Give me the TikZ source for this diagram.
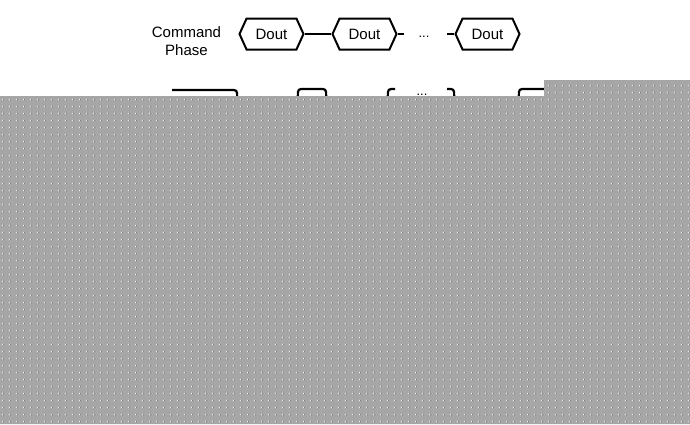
\documentclass[tikz,border=0pt]{standalone}
\usepackage{fontspec}
\setmainfont{Liberation Sans}
\usetikzlibrary{shapes.symbols,patterns.meta}
\definecolor{maskgray}{HTML}{A6A6A6}
\definecolor{maskdot}{HTML}{EDEDED}
\definecolor{maskdark}{HTML}{6A6A6A}
\tikzdeclarepattern{
  name=maskdots,
  type=colored,
  bounding box={(0,0) and (7.4pt,7.4pt)},
  tile size={(7.4pt,7.4pt)},
  code={\fill[maskdot] (3pt,3pt) rectangle ++(1.4pt,1.4pt);
        \fill[maskdark] (4.4pt,3pt) rectangle ++(1pt,1pt);}
}
\tikzset{
  hexbus/.style={draw, line width=2pt, signal, signal to=west and east,
    signal pointer angle=131, minimum width=64pt, minimum height=31pt,
    inner sep=0pt, font=\fontsize{15}{18}\selectfont},
  wire/.style={line width=2pt},
  wave/.style={line width=2.2pt, rounded corners=3pt},
  lbl/.style={font=\fontsize{15}{18}\selectfont, align=center, inner sep=0pt},
  ell/.style={font=\fontsize{13}{15}\selectfont, inner sep=0pt, anchor=base},
  mask/.style={fill=maskgray}
}
\begin{document}
\begin{tikzpicture}[x=1pt,y=-1pt]
\useasboundingbox (0,0) rectangle (690,424);
\node[lbl] (cmd) at (186.5,41) {Command\\Phase};
\node[hexbus] (d1) at (271.5,34) {Dout};
\node[hexbus] (d2) at (364.5,34) {Dout};
\node[hexbus] (d3) at (487.5,34) {Dout};
\node[ell] (dots1) at (424,37.5) {...};
\coordinate (c2) at (404,34);
\coordinate (c3) at (447,34);
\draw[wire] (d1.east) -- (d2.west);
\draw[wire] (d2.east) -- (c2);
\draw[wire] (c3) -- (d3.west);
% second row waveform (upper part visible)
\draw[wave] (172,90) -- (237,90) -- (238,130);
\draw[wave] (297,130) -- (298,89) -- (326,89) -- (327,130);
\draw[wave] (387,130) -- (388,89) -- (395,89);
\node[ell] (dots2) at (422,95) {...};
\draw[wave] (447,89) -- (454,89) -- (455,130);
\draw[wave] (518,130) -- (519,89) -- (546,89);
% obscuring mask
\fill[mask] (0,96) -- (544,96) -- (544,80) -- (690,80) -- (690,424) -- (0,424) -- cycle;
\fill[pattern={maskdots}] (0,96) -- (544,96) -- (544,80) -- (690,80) -- (690,424) -- (0,424) -- cycle;
\end{tikzpicture}
\end{document}
